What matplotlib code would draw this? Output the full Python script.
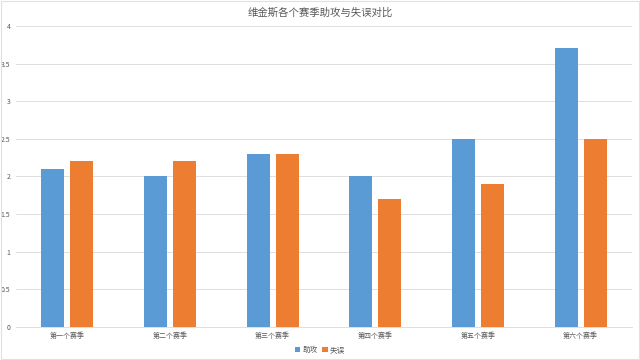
import matplotlib.pyplot as plt
import numpy as np

plt.rcParams['font.family'] = ['Noto Sans CJK SC', 'DejaVu Sans']

seasons = ["第一个赛季", "第二个赛季", "第三个赛季", "第四个赛季", "第五个赛季", "第六个赛季"]
assists = [2.1, 2.0, 2.3, 2.0, 2.5, 3.7]
turnovers = [2.2, 2.2, 2.3, 1.7, 1.9, 2.5]
yticks = [0, 0.5, 1, 1.5, 2, 2.5, 3, 3.5, 4]
ytick_labels = ["0", "0.5", "1", "1.5", "2", "2.5", "3", "3.5", "4"]

BLUE = "#5b9bd5"
ORANGE = "#ed7d31"
GREY = "#595959"

fig = plt.figure(figsize=(6.4, 3.6), dpi=100)
ax = fig.add_axes([0.025, 0.092, 0.9625, 0.836])

x = np.arange(len(seasons))
w = 0.224
ax.bar(x - 0.141, assists, w, color=BLUE, label="助攻", zorder=3)
ax.bar(x + 0.141, turnovers, w, color=ORANGE, label="失误", zorder=3)

ax.set_xlim(-0.5, len(seasons) - 0.5)
ax.set_ylim(0, 4)
ax.set_yticks(yticks, ytick_labels)
ax.set_xticks(x, seasons)
ax.tick_params(length=0, labelsize=5, colors=GREY, pad=4)
ax.grid(axis="y", color="#d9d9d9", linewidth=0.6, zorder=0)
for s in ["top", "right", "left"]:
    ax.spines[s].set_visible(False)
ax.spines["bottom"].set_color("#d9d9d9")
ax.spines["bottom"].set_linewidth(0.6)

fig.text(0.5, 0.965, "维金斯各个赛季助攻与失误对比", ha="center", va="center",
         fontsize=7.5, color=GREY)
fig.legend(loc="center", bbox_to_anchor=(0.5, 0.027), ncol=2, frameon=False,
           fontsize=5.5, handlelength=0.7, handleheight=0.7, handletextpad=0.3,
           columnspacing=0.6, labelcolor=GREY)

# thin frame round the whole chart
fig.patches.append(plt.Rectangle((0.002, 0.003), 0.996, 0.994, transform=fig.transFigure,
                                 fill=False, edgecolor="#e0e0e0", linewidth=0.8))

fig.savefig("out.png")
